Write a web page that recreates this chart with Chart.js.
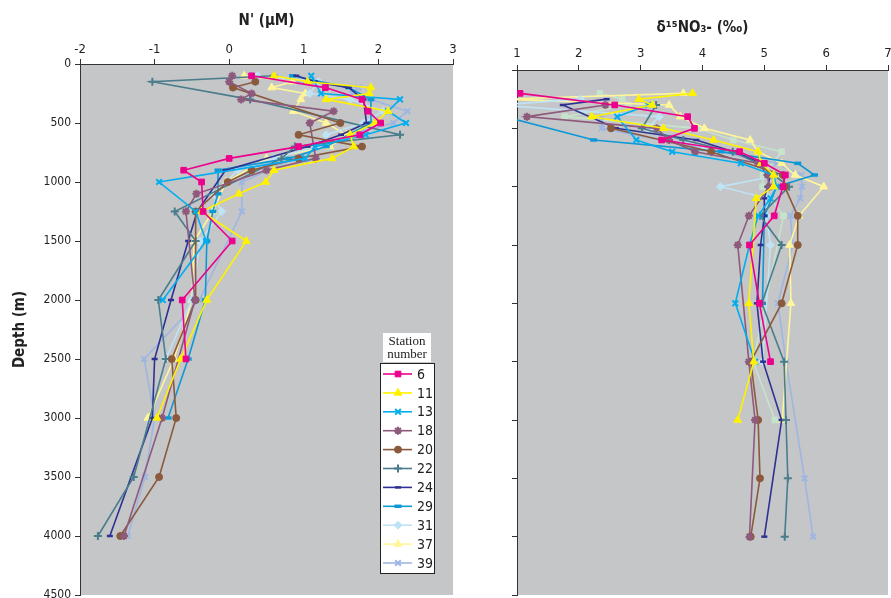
<!DOCTYPE html>
<html>
<head>
<meta charset="utf-8">
<script src="https://cdn.jsdelivr.net/npm/chart.js@4/dist/chart.umd.min.js"></script>
<style>
  html, body { margin: 0; padding: 0; background: #fff; }
  body { width: 891px; height: 598px; position: relative; overflow: hidden; }
  #left { position: absolute; left: 0; top: 0; }
  #right { position: absolute; left: 460px; top: 0; }
</style>
</head>
<body>
<canvas id="left" width="460" height="598"></canvas>
<canvas id="right" width="431" height="598"></canvas>
<script>
// station labels
const stations = ['6', '11', '13', '18', '20', '22', '24', '29', '31', '37', '39'];

// N' (uM) by depth, left panel
const depthN = [100, 150, 200, 250, 300, 400, 500, 600, 700, 800, 900, 1000, 1100, 1250, 1500, 2000, 2500, 3000, 3500, 4000];
const n6  = [0.3, null, 1.29, null, 1.78, 1.86, 2.03, 1.75, 0.93, 0.0, -0.61, -0.37, null, -0.35, 0.04, -0.63, -0.58, null, null, null];
const n11 = [0.6, 1.05, 1.9, 1.88, 1.3, 2.13, 1.95, 1.62, 1.67, 1.38, 0.6, 0.49, 0.13, -0.37, 0.23, -0.3, -0.65, -0.97, null, null];
const n13 = [1.1, null, null, 1.23, 2.29, 2.13, 2.37, 1.83, 1.15, 1.02, null, -0.94, null, -0.45, -0.31, -0.89, null, null, null, null];
const n18 = [0.04, 0.0, null, 0.3, 0.16, 1.4, 1.08, null, null, 1.16, 0.5, null, -0.44, -0.58, null, -0.46, null, -0.9, null, -1.41];
const n20 = [null, 0.35, 0.05, null, null, null, 1.49, 0.93, 1.78, 0.93, 0.3, -0.02, null, -0.45, null, -0.45, -0.77, -0.71, -0.94, -1.46];
const n22 = [0.6, -1.03, null, null, 0.28, null, null, 2.29, 0.88, 0.7, null, null, null, -0.73, -0.45, -0.95, -0.85, null, -1.28, -1.76];
const n24 = [0.9, 1.15, 1.6, null, 1.8, null, 1.84, 1.5, 1.05, null, -0.05, null, null, -0.43, -0.55, -0.78, -1.0, -1.03, null, -1.6];
const n29 = [0.85, null, 1.6, null, 1.9, null, 1.9, null, 1.3, 0.8, -0.15, null, -0.15, -0.22, -0.3, -0.32, -0.55, -0.82, null, null];
const n31 = [0.38, 1.2, null, 1.08, 1.62, 2.06, 1.8, 1.3, 1.17, 0.6, 0.12, null, -0.22, -0.1, -0.39, -0.5, -0.85, null, null, null];
const n37 = [0.2, 0.85, 0.57, 1.02, 0.96, 0.86, 1.3, 1.57, 1.35, 0.5, null, -0.04, null, -0.22, -0.47, -0.5, -0.74, -1.09, null, null];
const n39 = [null, 0.9, 1.73, 1.65, 1.9, 2.39, 2.2, 1.6, null, null, null, 0.17, null, 0.17, null, -0.4, -1.14, -1.0, -1.13, -1.36];

// d15N of nitrate (permil) by depth, right panel
const depthD = [200, 250, 300, 400, 500, 600, 700, 800, 900, 1000, 1100, 1250, 1500, 2000, 2500, 3000, 3500, 4000];
const d6  = [1.05, null, 2.58, 3.76, 3.87, 3.34, 4.6, 5.0, 5.34, 5.3, null, 5.16, 4.76, 4.92, 5.1, null, null, null];
const d11 = [3.84, 2.97, 3.19, 2.21, 3.37, 4.18, 4.9, 4.95, 5.15, 5.15, 4.87, null, null, 4.75, 4.83, 4.57, null, null];
const d13 = [null, null, 3.12, 2.62, null, 2.93, 3.51, 4.62, 5.15, 5.2, 5.1, 4.9, 4.76, 4.53, 4.85, null, null, null];
const d18 = [null, null, 2.43, 1.16, 3.26, 3.46, 3.88, 4.9, 5.05, 5.08, null, 4.75, 4.57, null, 4.75, 4.85, null, 4.76];
const d20 = [null, null, null, null, 2.52, null, 4.14, null, 5.3, 5.33, null, 5.54, 5.54, 5.28, 4.78, 4.9, 4.93, 4.78];
const d22 = [null, null, 3.25, null, 3.02, 3.69, 4.49, 4.9, 5.15, 5.4, null, 4.93, 5.28, 4.96, 5.32, 5.35, 5.38, 5.33];
const d24 = [null, 2.45, 1.74, null, 2.6, 3.9, 4.5, 4.96, 5.1, 5.05, 5.0, 5.0, 4.94, 4.88, 4.98, 5.28, null, 5.0];
const d29 = [null, null, null, 0.8, null, 2.24, 4.3, 5.54, 5.81, 5.2, null, 5.0, null, 4.97, null, null, null, null];
const d31 = [null, 2.02, 0.7, 3.3, 3.11, null, null, null, 5.26, 4.29, 5.05, 5.03, 5.1, null, 4.97, null, null, null];
const d37 = [3.69, 0.8, 3.46, 3.64, 4.03, 4.77, 4.9, 5.28, 5.5, 5.96, null, 5.56, 5.41, 5.43, null, 5.29, null, null];
const d39 = [null, null, null, 2.37, 2.37, null, null, 5.2, 5.6, 5.61, 5.58, 5.42, 5.46, 5.22, 5.35, null, 5.65, 5.79];
const dExtra = [2.34, 2.7, 2.8, 1.77, 3.93, 4.5, 5.28, null, 4.98, 4.97, null, 5.31, null, null, 4.82, 5.17, null, null];

const nSeries = [n6, n11, n13, n18, n20, n22, n24, n29, n31, n37, n39];
const dSeries = [d6, d11, d13, d18, d20, d22, d24, d29, d31, d37, d39];

// look of each station
const colors = ['#ec008c', '#fff200', '#00aeef', '#8e5a7c', '#8b5a3c', '#4a7d8c', '#2e3192', '#0d98d6', '#bfe3f5', '#fff69a', '#9fb6e2'];
const markers = ['rect', 'triangle', 'crossRot', 'star', 'circle', 'cross', 'line', 'line', 'rectRot', 'triangle', 'crossRot'];
const radii = [4, 4.5, 4, 4, 3.5, 4, 3, 3.5, 4, 4.5, 4];
const markerWidth = [1, 1, 2, 2, 1, 2, 2.5, 3.5, 1, 1, 2];

const FONT = "'DejaVu Sans Condensed', 'DejaVu Sans', sans-serif";
const PLOT_BG = '#c5c6c8';

function toPoints(depths, vals) {
  const out = [];
  vals.forEach((v, i) => { if (v !== null) out.push({ x: v, y: depths[i] }); });
  return out;
}

function makeSet(label, depths, vals, color, marker, r, mw) {
  return {
    label: label,
    data: toPoints(depths, vals),
    showLine: true,
    borderColor: color,
    backgroundColor: color,
    borderWidth: 1.6,
    pointStyle: marker,
    pointRadius: r,
    pointHoverRadius: r,
    pointBorderWidth: mw,
    pointBorderColor: color,
    pointBackgroundColor: color
  };
}

const plotBg = {
  id: 'plotBg',
  beforeDraw(chart) {
    const a = chart.chartArea, ctx = chart.ctx;
    ctx.save();
    ctx.fillStyle = PLOT_BG;
    ctx.fillRect(a.left, a.top, a.right - a.left, a.bottom - a.top);
    ctx.restore();
  }
};

// legend box inside left panel
const stationLegend = {
  id: 'stationLegend',
  afterDraw(chart) {
    const ctx = chart.ctx;
    const bx = 380, by = 363, bw = 54, bh = 210;
    ctx.save();
    ctx.fillStyle = '#fff';
    ctx.fillRect(383, 333, 48, 29);
    ctx.fillStyle = '#222';
    ctx.font = "13px 'Liberation Serif', serif";
    ctx.textAlign = 'center';
    ctx.textBaseline = 'middle';
    ctx.fillText('Station', 407, 342);
    ctx.fillText('number', 407, 355);
    ctx.fillStyle = '#fff';
    ctx.fillRect(bx, by, bw, bh);
    ctx.strokeStyle = '#222';
    ctx.lineWidth = 1;
    ctx.strokeRect(bx + 0.5, by + 0.5, bw, bh);
    chart.data.datasets.forEach((ds, i) => {
      const y = 374 + i * 18.9;
      ctx.strokeStyle = ds.borderColor;
      ctx.lineWidth = 1.6;
      ctx.beginPath();
      ctx.moveTo(383, y);
      ctx.lineTo(412, y);
      ctx.stroke();
      ctx.fillStyle = ds.pointBackgroundColor;
      ctx.strokeStyle = ds.pointBorderColor;
      ctx.lineWidth = ds.pointBorderWidth;
      Chart.helpers.drawPoint(ctx, {
        pointStyle: ds.pointStyle, radius: ds.pointRadius, borderWidth: ds.pointBorderWidth, rotation: 0
      }, 398, y);
      ctx.fillStyle = '#222';
      ctx.font = '14px ' + FONT;
      ctx.textAlign = 'left';
      ctx.textBaseline = 'middle';
      ctx.fillText(ds.label, 417, y + 1);
    });
    ctx.restore();
  }
};

function yAxis(width, showLabels, title) {
  return {
    type: 'linear', reverse: true, min: 0, max: 4500,
    afterFit(s) { s.width = width; s.paddingTop = 0; s.paddingBottom = 0; },
    border: { color: '#333', width: 1 },
    grid: { drawOnChartArea: false, tickLength: 5, color: '#333' },
    ticks: {
      stepSize: 500, padding: 4, color: '#222',
      font: { family: FONT, size: 12 },
      callback: v => showLabels ? v : ''
    },
    title: title ? {
      display: true, text: title, color: '#222',
      font: { family: FONT, size: 15, weight: 'bold' },
      padding: { top: 11 }
    } : { display: false }
  };
}

function xAxis(min, max, height, title, titlePad, labPad) {
  return {
    type: 'linear', position: 'top', min: min, max: max,
    afterFit(s) { s.height = height; s.paddingLeft = 0; s.paddingRight = 0; },
    border: { color: '#333', width: 1 },
    grid: { drawOnChartArea: false, tickLength: 5, color: '#333' },
    ticks: { stepSize: 1, padding: labPad, color: '#222', font: { family: FONT, size: 13 } },
    title: {
      display: true, text: title, color: '#222',
      font: { family: FONT, size: 15, weight: 'bold' },
      padding: { top: titlePad, bottom: 0 }
    }
  };
}

const leftSets = stations.map((s, i) => makeSet(s, depthN, nSeries[i], colors[i], markers[i], radii[i], markerWidth[i]));
const rightSets = stations.map((s, i) => makeSet(s, depthD, dSeries[i], colors[i], markers[i], radii[i], markerWidth[i]));
rightSets.push(makeSet('other', depthD, dExtra, '#c6e3cb', 'rect', 4, 1));

new Chart(document.getElementById('left'), {
  type: 'scatter',
  data: { datasets: leftSets },
  options: {
    responsive: false, animation: false,
    layout: { autoPadding: false, padding: { left: 0, right: 7, top: 0, bottom: 3 } },
    plugins: { legend: { display: false }, tooltip: { enabled: false } },
    scales: {
      x: xAxis(-2, 3, 64, "N' (\u00b5M)", 12, 2),
      y: yAxis(80, true, 'Depth (m)')
    }
  },
  plugins: [plotBg, stationLegend]
});

new Chart(document.getElementById('right'), {
  type: 'scatter',
  data: { datasets: rightSets },
  options: {
    responsive: false, animation: false,
    layout: { autoPadding: false, padding: { left: 0, right: 3, top: 0, bottom: 3 } },
    plugins: { legend: { display: false }, tooltip: { enabled: false } },
    scales: {
      x: xAxis(1, 7, 70, '\u03b4\u00b9\u2075NO\u2083- (\u2030)', 19, 4),
      y: yAxis(57, false, null)
    }
  },
  plugins: [plotBg]
});
</script>
</body>
</html>
